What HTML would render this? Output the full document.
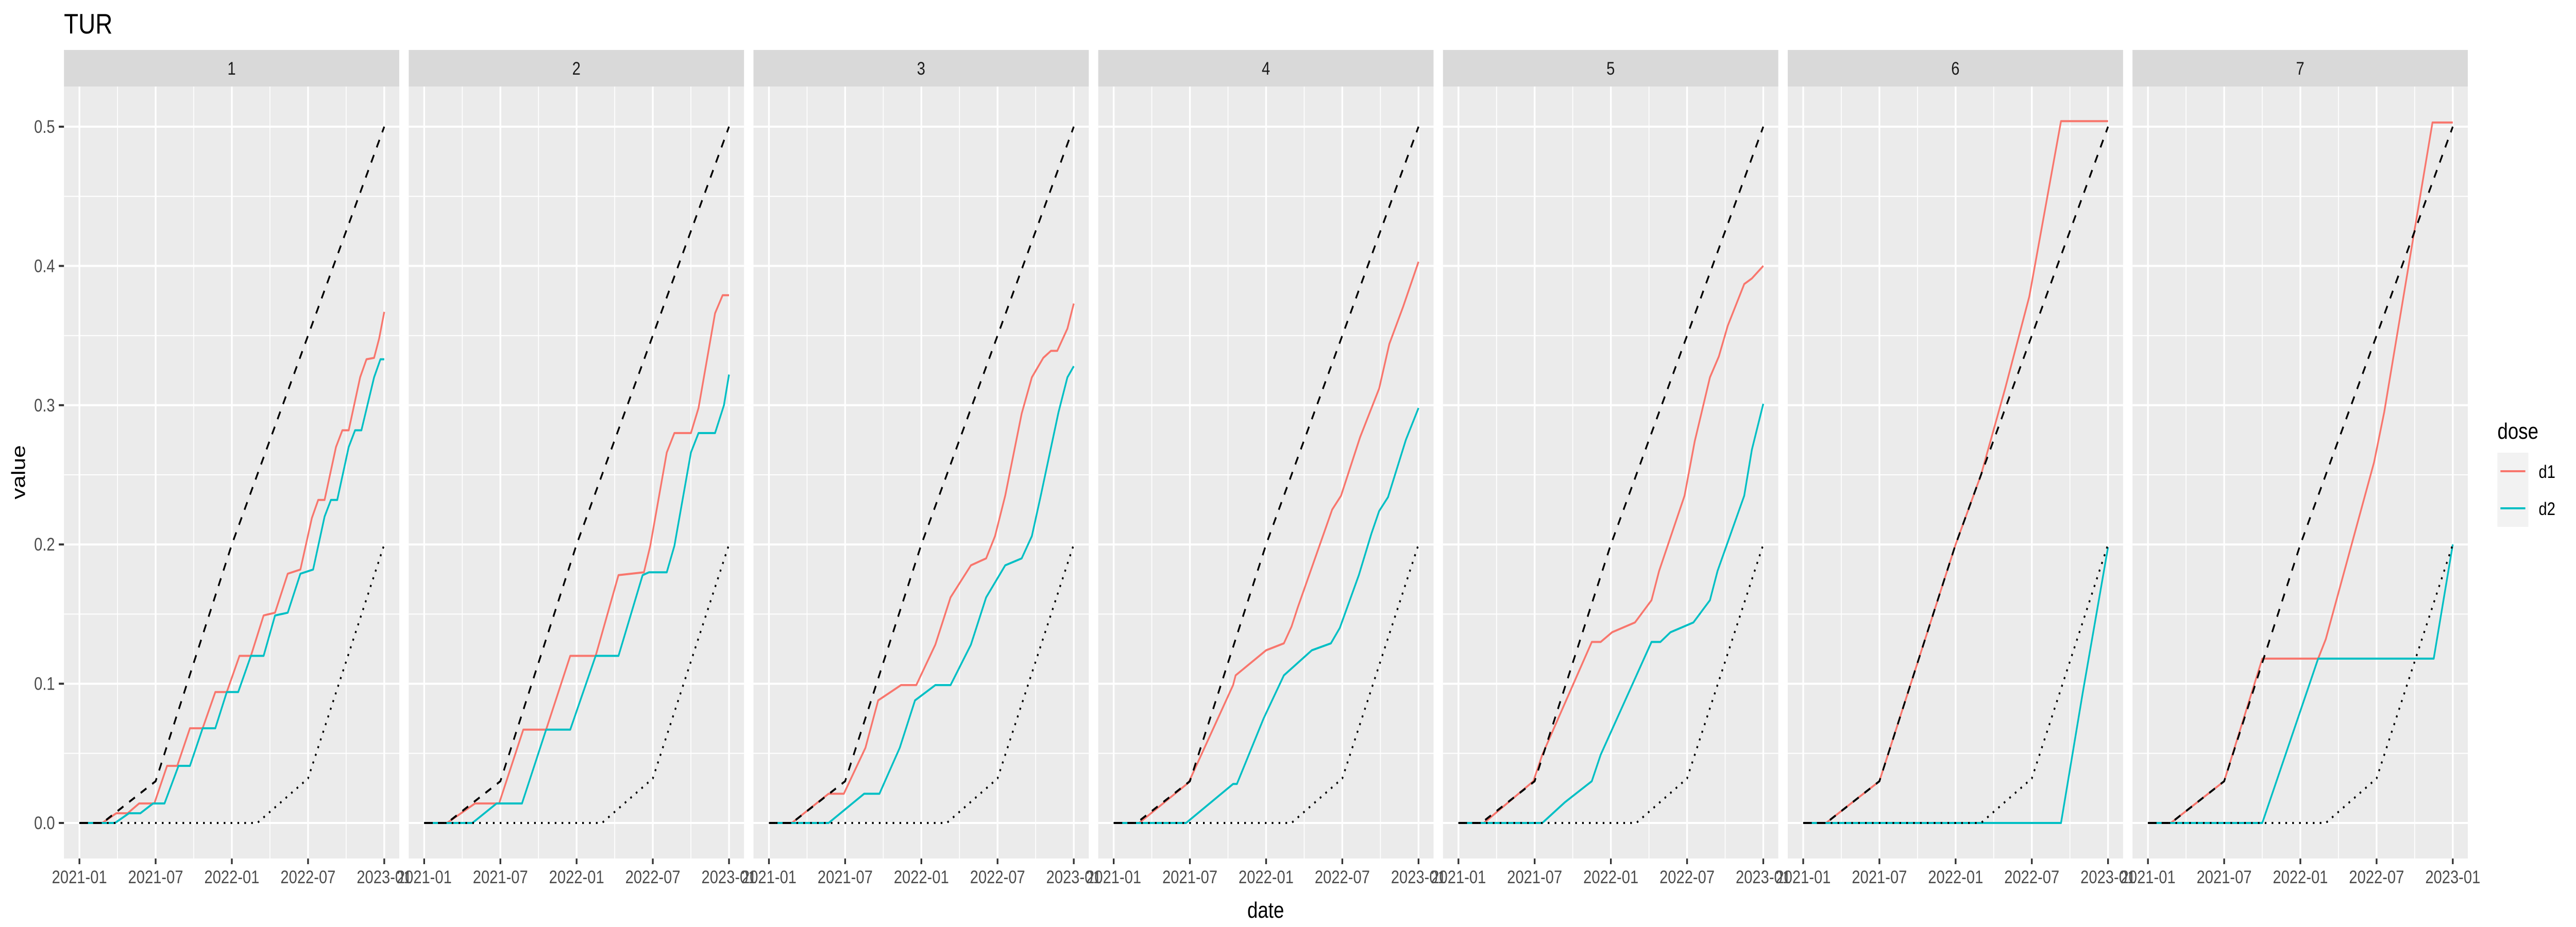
<!DOCTYPE html>
<html><head><meta charset="utf-8"><style>
html,body{margin:0;padding:0;background:#fff;width:100%;height:100%;overflow:hidden;}
svg{display:block;width:100vw;height:100vh;font-family:"Liberation Sans",sans-serif;}
</style></head><body>
<svg id="chart" viewBox="0 0 6000 1800" preserveAspectRatio="none" xmlns="http://www.w3.org/2000/svg">
<text x="149" y="65" font-size="55" fill="#000">TUR</text>
<text x="2948" y="1782" font-size="44" fill="#000" text-anchor="middle">date</text>
<text transform="translate(58,917) rotate(-90)" font-size="44" fill="#000" text-anchor="middle">value</text>
<g>
<text x="5817" y="852" font-size="44" fill="#000">dose</text>
<rect x="5817" y="879" width="72" height="144" fill="#F2F2F2"/>
<line x1="5824" x2="5882" y1="915" y2="915" stroke="#F8766D" stroke-width="4"/>
<line x1="5824" x2="5882" y1="987" y2="987" stroke="#00BFC4" stroke-width="4"/>
<text x="5913" y="928" font-size="35" fill="#000">d1</text>
<text x="5913" y="1000" font-size="35" fill="#000">d2</text>
</g>
<g id="panels"></g>
</svg>
<script>
// Data: months since 2021-01 and values
const panelLabels = ["1","2","3","4","5","6","7"];
const xTickLabels = ["2021-01","2021-07","2022-01","2022-07","2023-01"];
const xTickMonths = [0,6,12,18,24];
const yTickValues = [0,0.1,0.2,0.3,0.4,0.5];
const yTickLabels = ["0.0","0.1","0.2","0.3","0.4","0.5"];
const dashedMonths = [0,1.8,6,12,24];
const dashedValues = [0,0,0.03,0.2,0.5];
const dottedMonths = [0,14,18,24];
const dottedValues = [0,0,0.032,0.2];

const p1d1M = [0,1.8,2.9,3.8,4.7,5.9,6.9,7.7,8.7,9.7,10.7,11.6,12.6,13.5,14.5,15.4,16.4,17.4,18.3,18.8,19.3,20.2,20.7,21.2,22.1,22.6,23.2,23.6,24];
const p1d1V = [0,0,0.007,0.007,0.014,0.014,0.041,0.041,0.068,0.068,0.094,0.094,0.12,0.12,0.149,0.151,0.179,0.182,0.219,0.232,0.232,0.27,0.282,0.282,0.32,0.333,0.334,0.348,0.367];
const p1d2M = [0,2.8,3.9,4.8,5.8,6.7,7.8,8.7,9.7,10.7,11.6,12.5,13.5,14.5,15.4,16.4,17.4,18.4,19.3,19.8,20.3,21.2,21.7,22.2,23.2,23.7,24];
const p1d2V = [0,0,0.007,0.007,0.014,0.014,0.041,0.041,0.068,0.068,0.094,0.094,0.12,0.12,0.149,0.151,0.179,0.182,0.22,0.232,0.232,0.27,0.282,0.282,0.32,0.333,0.333];
const p2d1M = [0,1.8,4,5.9,7.8,9.6,11.5,13.5,15.3,17.3,17.8,19.1,19.7,21,21.6,22.9,23.5,24];
const p2d1V = [0,0,0.014,0.014,0.067,0.067,0.12,0.12,0.178,0.18,0.199,0.266,0.28,0.28,0.298,0.366,0.379,0.379];
const p2d2M = [0,3.8,5.7,7.7,9.6,11.5,13.5,15.3,17.2,17.7,19.1,19.7,21,21.6,22.9,23.6,24];
const p2d2V = [0,0,0.014,0.014,0.067,0.067,0.12,0.12,0.178,0.18,0.18,0.199,0.266,0.28,0.28,0.3,0.322];
const p3d1M = [0,1.8,4.7,5.9,7.6,8.6,10.4,11.6,13.1,14.3,15.9,17.1,17.8,18.6,19.9,20.7,21.6,22.2,22.7,23.5,24];
const p3d1V = [0,0,0.021,0.021,0.054,0.088,0.099,0.099,0.128,0.162,0.185,0.19,0.206,0.235,0.294,0.32,0.334,0.339,0.339,0.355,0.373];
const p3d2M = [0,4.7,6.7,7.5,8.7,10.3,11.5,13.1,14.3,15.9,17.1,18.6,19.9,20.7,21.4,22.8,23.5,24];
const p3d2V = [0,0,0.015,0.021,0.021,0.054,0.088,0.099,0.099,0.128,0.162,0.185,0.19,0.206,0.235,0.295,0.32,0.328];
const p4d1M = [0,2,5.9,9.4,9.6,12,13.4,14,14.5,16.7,17.2,17.9,19.4,20.9,21.7,22.8,24];
const p4d1V = [0,0,0.029,0.099,0.106,0.124,0.129,0.141,0.155,0.212,0.225,0.235,0.277,0.312,0.344,0.371,0.403];
const p4d2M = [0,5.7,9.4,9.7,11.8,13.4,15.6,17.1,17.8,19.3,20.3,20.9,21.6,23,24];
const p4d2V = [0,0,0.028,0.028,0.075,0.106,0.124,0.129,0.14,0.178,0.208,0.224,0.234,0.275,0.298];
const p5d1M = [0,2,5.9,6.6,10.5,11.2,12.1,13.9,15.2,15.8,17.8,18.6,19.8,20.5,21.2,22.5,23.1,24];
const p5d1V = [0,0,0.03,0.049,0.13,0.13,0.137,0.144,0.16,0.181,0.235,0.274,0.32,0.335,0.357,0.387,0.391,0.4];
const p5d2M = [0,6.6,8.4,10.5,11.2,15.2,15.9,16.7,18.5,19.8,20.4,22.5,23.1,24];
const p5d2V = [0,0,0.015,0.03,0.049,0.13,0.13,0.137,0.144,0.16,0.181,0.235,0.268,0.301];
const p6d1M = [0,1.8,6,12,14,15.9,17.8,20.3,24];
const p6d1V = [0,0,0.03,0.2,0.25,0.312,0.378,0.504,0.504];
const p6d2M = [0,20.3,22,24];
const p6d2V = [0,0,0.093,0.198];
const p7d1M = [0,1.8,6,9,13.4,14,17.8,18.6,22.4,24];
const p7d1V = [0,0,0.03,0.118,0.118,0.132,0.259,0.295,0.503,0.503];
const p7d2M = [0,9,13.4,22.5,24];
const p7d2V = [0,0,0.118,0.118,0.2];

const d1Months=[p1d1M,p2d1M,p3d1M,p4d1M,p5d1M,p6d1M,p7d1M];
const d1Values=[p1d1V,p2d1V,p3d1V,p4d1V,p5d1V,p6d1V,p7d1V];
const d2Months=[p1d2M,p2d2M,p3d2M,p4d2M,p5d2M,p6d2M,p7d2M];
const d2Values=[p1d2V,p2d2V,p3d2V,p4d2V,p5d2V,p6d2V,p7d2V];

const NS="http://www.w3.org/2000/svg";
const root=document.getElementById('panels');
const PL=149, PW=781, GAP=22, PT=168, PB=1667, ST=97;
function yScale(v){return 1598 - v*2704;}
function xScale(i,m){return PL + i*(PW+GAP) + 36 + m*(710/24);}
function mk(tag,attrs,parent){const e=document.createElementNS(NS,tag);for(const k in attrs)e.setAttribute(k,attrs[k]);parent.appendChild(e);return e;}
function pathD(i,ms,vs){return ms.map((m,j)=>(j?'L':'M')+xScale(i,m).toFixed(1)+','+yScale(vs[j]).toFixed(1)).join('');}

for(let i=0;i<panelLabels.length;i++){
  const left=PL+i*(PW+GAP);
  const g=mk('g',{},root);
  
  
  const bg=mk('rect',{x:left,y:PT,width:PW,height:PB-PT,fill:'#EBEBEB'},g);
  
  
  const strip=mk('rect',{x:left,y:ST,width:PW,height:PT-ST,fill:'#D9D9D9'},g);
  
  
  const st=mk('text',{x:left+PW/2,y:145,'font-size':35,fill:'#1A1A1A','text-anchor':'middle'},g);
  st.textContent=panelLabels[i];
  
  
  for(let v=0.05;v<0.5;v+=0.1){const l=mk('line',{x1:left,x2:left+PW,y1:yScale(v),y2:yScale(v),stroke:'#fff','stroke-width':2},g);
    
    }
  [3,9,15,21].forEach(m=>{const l=mk('line',{x1:xScale(i,m),x2:xScale(i,m),y1:PT,y2:PB,stroke:'#fff','stroke-width':2},g);
    
    });
  yTickValues.forEach((v,k)=>{const l=mk('line',{x1:left,x2:left+PW,y1:yScale(v),y2:yScale(v),stroke:'#fff','stroke-width':4},g);
    
    
    if(i===0){const t=mk('line',{x1:137,x2:149,y1:yScale(v),y2:yScale(v),stroke:'#333','stroke-width':4},g);
      
      
      const tx=mk('text',{x:128,y:yScale(v)+12,'font-size':35,fill:'#4D4D4D','text-anchor':'end'},g);
      tx.textContent=yTickLabels[k];
      
      }
  });
  xTickMonths.forEach((m,k)=>{const x=xScale(i,m);
    const l=mk('line',{x1:x,x2:x,y1:PT,y2:PB,stroke:'#fff','stroke-width':4},g);
    
    
    const t=mk('line',{x1:x,x2:x,y1:PB,y2:PB+11,stroke:'#333','stroke-width':4},g);
    
    
    const tx=mk('text',{x:x,y:1715,'font-size':35,fill:'#4D4D4D','text-anchor':'middle'},g);
    tx.textContent=xTickLabels[k];
    
    
  });
  const a=mk('path',{d:pathD(i,d1Months[i],d1Values[i]),fill:'none',stroke:'#F8766D','stroke-width':4,'stroke-linejoin':'round'},g);
  
  
  const b=mk('path',{d:pathD(i,d2Months[i],d2Values[i]),fill:'none',stroke:'#00BFC4','stroke-width':4,'stroke-linejoin':'round'},g);
  
  
  const dash=mk('path',{d:pathD(i,dashedMonths,dashedValues),fill:'none',stroke:'#000','stroke-width':4,'stroke-dasharray':'16,16'},g);
  
  
  const dot=mk('path',{d:pathD(i,dottedMonths,dottedValues),fill:'none',stroke:'#000','stroke-width':4,'stroke-dasharray':'4,12'},g);
  
  
}
</script>
</body></html>
